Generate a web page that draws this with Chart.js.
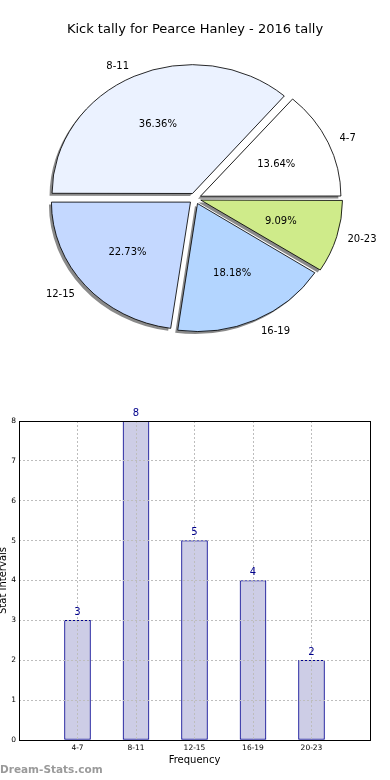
<!DOCTYPE html>
<html>
<head>
<meta charset="utf-8">
<script src="https://cdn.jsdelivr.net/npm/chart.js@4.4.1/dist/chart.umd.min.js"></script>
<style>
  html, body { margin: 0; padding: 0; background: #fff; }
  #wrap { position: relative; width: 390px; height: 780px; overflow: hidden; }
  #pieChart { position: absolute; left: 0; top: 0; }
  #barChart { position: absolute; left: 0; top: 380px; }
  #mark { position: absolute; left: 0; top: 763px; font: bold 10.5px "DejaVu Sans", sans-serif; color: #9a9a9a; }
</style>
</head>
<body>
<div id="wrap">
  <canvas id="pieChart" width="390" height="380"></canvas>
  <canvas id="barChart" width="390" height="400"></canvas>
  <div id="mark">Dream-Stats.com</div>
</div>
<script>
const chartTitle = 'Kick tally for Pearce Hanley - 2016 tally';
const categories = ['4-7', '8-11', '12-15', '16-19', '20-23'];
const kicks = [3, 8, 5, 4, 2];
const sliceColors = ['#ffffff', '#ebf2ff', '#c4d8ff', '#b3d5ff', '#cfeb8a'];
const yTicks = [0, 1, 2, 3, 4, 5, 6, 7, 8];

const font = '"DejaVu Sans", sans-serif';
const stretchX = 1.09;  // the source pie is a bit wider than tall
const explode = 22;     // chart.js moves the slice by offset / 4

// matplotlib draws counter-clockwise from 3 o'clock, chart.js clockwise,
// so the slices go in reversed order
const pieLabels = categories.slice().reverse();
const pieValues = kicks.slice().reverse();
const pieColors = sliceColors.slice().reverse();
const total = kicks.reduce((a, b) => a + b, 0);

const stretch = (ctx, arc) => {
  ctx.translate(arc.x, arc.y);
  ctx.scale(stretchX, 1);
  ctx.translate(-arc.x, -arc.y);
};

const pieShape = {
  id: 'pieShape',
  beforeDatasetsDraw(chart) {
    const arcs = chart.getDatasetMeta(0).data;
    const ctx = chart.ctx;
    // drop shadow: a flat grey copy of every slice, shifted down-left
    arcs.forEach(arc => {
      const opts = arc.options;
      ctx.save();
      ctx.translate(-2.5, 2.5);
      stretch(ctx, arc);
      arc.options = { ...opts, backgroundColor: 'rgba(60,60,60,0.6)', borderWidth: 0 };
      arc.draw(ctx);
      arc.options = opts;
      ctx.restore();
    });
    ctx.save();
    stretch(ctx, arcs[0]);
  },
  afterDatasetsDraw(chart) {
    chart.ctx.restore();
  },
  afterDraw(chart) {
    const ctx = chart.ctx;
    ctx.save();
    ctx.font = '10px ' + font;
    ctx.fillStyle = '#000';
    ctx.textBaseline = 'middle';
    chart.getDatasetMeta(0).data.forEach((arc, i) => {
      const mid = (arc.startAngle + arc.endAngle) / 2;
      const off = explode / 4;
      const r = arc.outerRadius;
      const cx = arc.x, cy = arc.y;
      const lx = cx + Math.cos(mid) * (off + 1.1 * r) * stretchX;
      const ly = cy + Math.sin(mid) * (off + 1.1 * r);
      ctx.textAlign = Math.cos(mid) >= 0 ? 'left' : 'right';
      ctx.fillText(pieLabels[i], lx, ly);
      const px = cx + Math.cos(mid) * (off + 0.6 * r) * stretchX;
      const py = cy + Math.sin(mid) * (off + 0.6 * r);
      ctx.textAlign = 'center';
      ctx.fillText((pieValues[i] / total * 100).toFixed(2) + '%', px, py);
    });
    ctx.restore();
  }
};

new Chart(document.getElementById('pieChart'), {
  type: 'pie',
  data: {
    labels: pieLabels,
    datasets: [{
      data: pieValues,
      backgroundColor: pieColors,
      borderColor: '#000',
      borderWidth: 0.8,
      offset: explode,
      hoverOffset: explode
    }]
  },
  options: {
    responsive: false,
    animation: false,
    rotation: 90,
    radius: 127.5,
    layout: { padding: { top: 0, bottom: 20.6, left: 0, right: 0 } },
    plugins: {
      legend: { display: false },
      tooltip: { enabled: false },
      title: {
        display: true,
        text: chartTitle,
        color: '#000',
        font: { family: font, size: 13, weight: 'normal' },
        padding: { top: 22, bottom: 0 }
      }
    }
  },
  plugins: [pieShape]
});

const barExtras = {
  id: 'barExtras',
  afterDraw(chart) {
    const ctx = chart.ctx;
    const a = chart.chartArea;
    ctx.save();
    ctx.strokeStyle = '#000';
    ctx.lineWidth = 1;
    ctx.strokeRect(a.left + 0.5, a.top + 0.5, a.right - a.left, a.bottom - a.top);
    ctx.font = '10px ' + font;
    ctx.fillStyle = '#00008b';
    ctx.textAlign = 'center';
    ctx.textBaseline = 'bottom';
    chart.getDatasetMeta(0).data.forEach((bar, i) => {
      const v = chart.data.datasets[0].data[i];
      if (v == null) return;
      ctx.fillText(String(v), bar.x, bar.y - 3);
    });
    ctx.restore();
  }
};

new Chart(document.getElementById('barChart'), {
  type: 'bar',
  data: {
    labels: ['', ...categories, ''],
    datasets: [{
      data: [null, ...kicks, null],
      backgroundColor: '#cdcde6',
      borderColor: '#000090',
      borderWidth: 1,
      borderSkipped: false,
      barThickness: 26
    }]
  },
  options: {
    responsive: false,
    animation: false,
    layout: { padding: { top: 41, right: 20, bottom: 0, left: 0 } },
    plugins: {
      legend: { display: false },
      tooltip: { enabled: false }
    },
    scales: {
      x: {
        offset: false,
        grid: { color: '#bdbdbd', drawTicks: false, z: 1, lineWidth: 1, offset: false },
        border: { display: false, dash: [2, 2] },
        ticks: { color: '#000', padding: 4, font: { family: font, size: 7.5 }, maxRotation: 0, autoSkip: false },
        title: { display: true, text: 'Frequency', color: '#000', font: { family: font, size: 10 }, padding: { top: 0, bottom: 14 } },
        afterFit(scale) { scale.height = 40; }
      },
      y: {
        min: yTicks[0],
        max: yTicks[yTicks.length - 1],
        grid: { color: '#bdbdbd', drawTicks: false, z: 1, lineWidth: 1 },
        border: { display: false, dash: [2, 2] },
        ticks: { color: '#000', padding: 3, stepSize: 1, font: { family: font, size: 7.5 } },
        title: { display: true, text: 'Stat Intervals', color: '#000', font: { family: font, size: 10 }, padding: { top: -3, bottom: 0 } },
        afterFit(scale) { scale.width = 19; }
      }
    }
  },
  plugins: [barExtras]
});
</script>
</body>
</html>
